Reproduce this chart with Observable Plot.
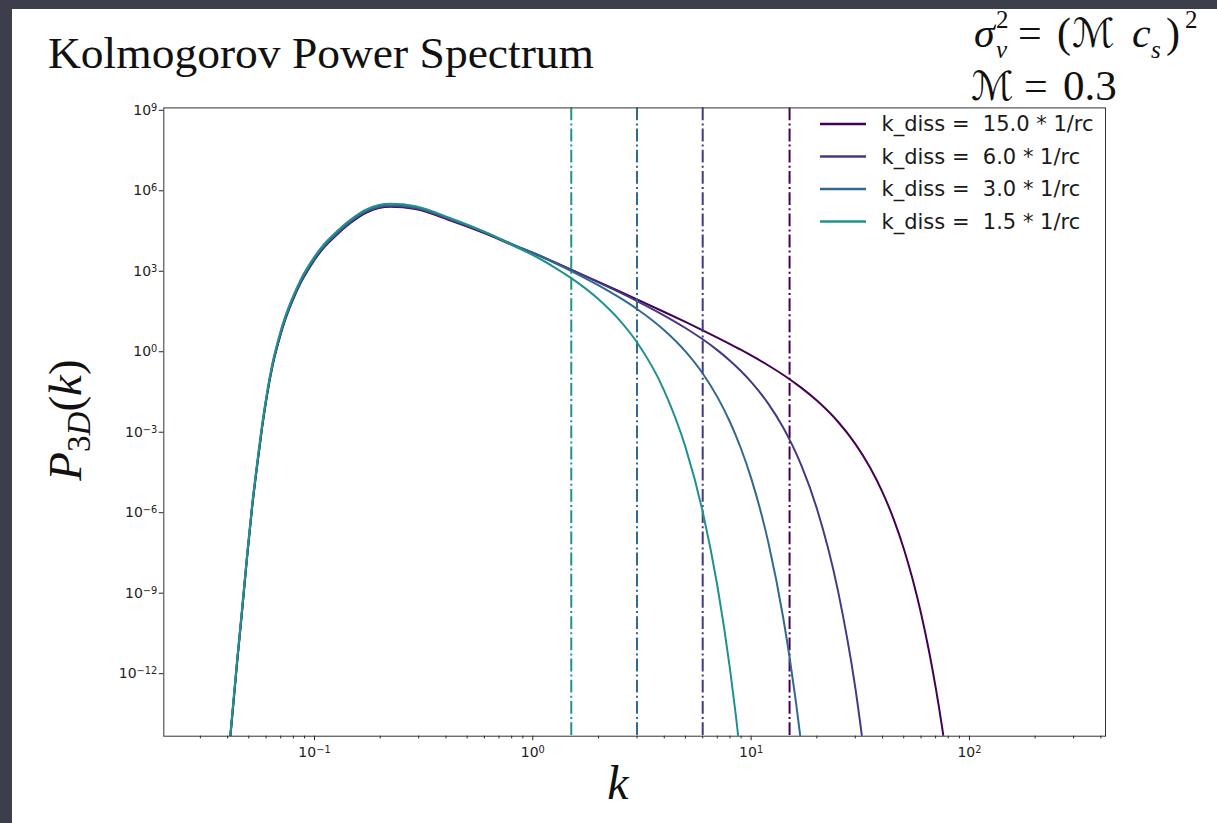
<!DOCTYPE html>
<html><head><meta charset="utf-8">
<script src="https://cdn.jsdelivr.net/npm/d3@7"></script>
<script src="https://cdn.jsdelivr.net/npm/@observablehq/plot@0.6"></script>
<style>
html,body{margin:0;padding:0;width:1217px;height:823px;overflow:hidden;background:#3c3f4b;}
#panel{position:absolute;left:12px;top:9px;width:1205px;height:814px;background:#fff;}
#chart{position:absolute;left:0;top:0;}
</style></head><body>
<div id="panel"></div>
<div id="chart"></div>
<script>
// wavenumbers k (shared grid)
const kValues = [0.0404, 0.0412, 0.0442, 0.0463, 0.0492, 0.0517, 0.0546, 0.0575, 0.0607, 0.0642, 0.0686, 0.0733, 0.0790, 0.0863, 0.0959, 0.108, 0.123, 0.145, 0.174, 0.223, 0.290, 0.420, 0.607, 0.848,
  1, 1.25, 1.5, 2, 2.5, 3, 4, 5, 6, 7, 8, 8.5, 9, 10, 12, 14, 15, 16, 17, 20, 25, 30, 35, 40, 45, 50, 55, 60, 65, 70, 75, 80];

// P_3D(k) for k_diss = 15.0
const pDiss15 = [6.03e-16, 3.80e-15, 2.04e-12, 1.02e-10, 2.04e-8, 1.10e-6, 4.47e-5, 1.15e-3, 2.06e-2, 0.236, 2.06, 12.3, 60.3, 295, 1294, 5.02e3, 1.51e4, 4.90e4, 1.29e5, 2.06e5, 1.70e5, 6.34e4, 2.07e4, 6.50e3,
  3.87e3, 1.77e3, 920, 324, 143, 72.6, 24.6, 10.5, 5.11, 2.74, 1.57, 1.21, 0.948, 0.592, 0.250, 0.113, 7.69e-2, 5.29e-2, 3.66e-2, 1.23e-2, 2.00e-3, 3.01e-4, 4.04e-5, 4.68e-6, 4.59e-7, 3.78e-8, 2.58e-9, 1.46e-10, 6.76e-12, 2.57e-13, 7.94e-15, 2.00e-16];
// k_diss = 6.0
const pDiss6 = [6.46e-16, 4.07e-15, 2.19e-12, 1.09e-10, 2.19e-8, 1.18e-6, 4.79e-5, 1.23e-3, 2.21e-2, 0.253, 2.21, 13.2, 64.6, 316, 1.39e3, 5.38e3, 1.62e4, 5.25e4, 1.38e5, 2.20e5, 1.82e5, 6.76e4, 2.20e4, 6.85e3,
  4.05e3, 1.82e3, 935, 316, 132, 63.1, 18.2, 6.26, 2.37, 0.937, 0.379, 0.241, 0.153, 6.15e-2, 9.29e-3, 1.25e-3, 4.32e-4, 1.44e-4, 4.62e-5, 1.17e-6, 9.92e-10, 2.45e-13, 1.67e-17, null, null, null, null, null, null, null, null, null];
// k_diss = 3.0
const pDiss3 = [6.92e-16, 4.36e-15, 2.34e-12, 1.17e-10, 2.34e-8, 1.26e-6, 5.13e-5, 1.32e-3, 2.37e-2, 0.271, 2.37, 14.1, 69.2, 339, 1.49e3, 5.76e3, 1.73e4, 5.63e4, 1.48e5, 2.35e5, 1.93e5, 7.15e4, 2.29e4, 6.92e3,
  4.00e3, 1.72e3, 831, 243, 84.2, 31.9, 5.13, 0.835, 0.126, 1.69e-2, 1.96e-3, 6.27e-4, 1.93e-4, 1.58e-5, 6.11e-8, 1.08e-10, 3.33e-12, 8.39e-14, 1.72e-15, null, null, null, null, null, null, null, null, null, null, null, null, null];
// k_diss = 1.5
const pDiss1_5 = [7.95e-16, 5.01e-15, 2.69e-12, 1.34e-10, 2.69e-8, 1.45e-6, 5.89e-5, 1.52e-3, 2.72e-2, 0.311, 2.72, 16.2, 79.5, 389, 1.71e3, 6.62e3, 1.99e4, 6.46e4, 1.68e5, 2.65e5, 2.16e5, 7.73e4, 2.32e4, 6.25e3,
  3.29e3, 1.17e3, 451, 73.5, 12.0, 1.83, 2.85e-2, 2.31e-4, 8.90e-7, 1.57e-9, 1.22e-12, 2.50e-14, 4.16e-16, null, null, null, null, null, null, null, null, null, null, null, null, null, null, null, null, null, null, null, null];

const kDiss = [15, 6, 3, 1.5];
const legendLabels = ["k_diss =  15.0 * 1/rc", "k_diss =  6.0 * 1/rc", "k_diss =  3.0 * 1/rc", "k_diss =  1.5 * 1/rc"];
const seriesColors = ["#440154", "#443a83", "#31688e", "#21918c"];

const xMajorTicks = [0.1, 1, 10, 100];
const xMajorLabels = ["10⁻¹", "10⁰", "10¹", "10²"];
const xMinorTicks = [0.03, 0.04, 0.05, 0.06, 0.07, 0.08, 0.09, 0.2, 0.3, 0.4, 0.5, 0.6, 0.7, 0.8, 0.9, 2, 3, 4, 5, 6, 7, 8, 9, 20, 30, 40, 50, 60, 70, 80, 90, 200, 300, 400];
const yMajorTicks = [1e-12, 1e-9, 1e-6, 1e-3, 1, 1e3, 1e6, 1e9];
const yMajorLabels = ["10⁻¹²", "10⁻⁹", "10⁻⁶", "10⁻³", "10⁰", "10³", "10⁶", "10⁹"];
// exponents used to typeset the same labels with real superscripts
const xExponents = ["−1", "0", "1", "2"];
const yExponents = ["−12", "−9", "−6", "−3", "0", "3", "6", "9"];

const xDomain = [0.0204, 420];
const yDomain = [3.8e-15, 1e9];

const allSeries = [pDiss15, pDiss6, pDiss3, pDiss1_5].map((arr, i) => ({
  kd: kDiss[i],
  color: seriesColors[i],
  rows: kValues.map((k, j) => ({k, P: arr[j]})).filter(d => d.P != null)
}));

const dashDot = "12.8,3.2,2,3.2";
const marks = [];
allSeries.forEach(s => {
  marks.push(Plot.line(s.rows, {x: "k", y: "P", stroke: s.color, strokeWidth: 2, curve: "monotone-x", clip: true}));
  marks.push(Plot.ruleX([s.kd], {stroke: s.color, strokeWidth: 2, strokeDasharray: dashDot}));
});
marks.push(Plot.axisX(xMinorTicks, {anchor: "bottom", tickSize: 2.7, tickFormat: () => "", label: null, color: "#222"}));
marks.push(Plot.axisX(xMajorTicks, {anchor: "bottom", tickSize: 4.5, tickPadding: 6.5, tickFormat: d => xMajorLabels[xMajorTicks.indexOf(d)], label: null, color: "#222"}));
marks.push(Plot.axisY(yMajorTicks, {anchor: "left", tickSize: 4.5, tickPadding: 2, dy: 2.4, tickFormat: d => yMajorLabels[yMajorTicks.indexOf(d)], label: null, color: "#222"}));
marks.push(Plot.frame({stroke: "#333", strokeWidth: 1}));

const chart = Plot.plot({
  width: 1217, height: 823,
  marginTop: 107.4, marginRight: 112, marginBottom: 87.3, marginLeft: 163.3,
  x: {type: "log", domain: xDomain, label: null},
  y: {type: "log", domain: yDomain, label: null},
  style: {background: "transparent", fontFamily: "DejaVu Sans", fontSize: "14px", color: "#222", overflow: "visible"},
  marks
});
document.getElementById("chart").appendChild(chart);

const svg = d3.select(chart);

// typeset tick labels "10^n" with a proper superscript (70% size)
svg.selectAll("text").each(function() {
  const t = this.textContent;
  let exp = null;
  const xi = xMajorLabels.indexOf(t), yi = yMajorLabels.indexOf(t);
  if (xi >= 0) exp = xExponents[xi];
  else if (yi >= 0) exp = yExponents[yi];
  if (exp === null) return;
  const sel = d3.select(this);
  sel.text(null).style("font-size", "14px");
  sel.append("tspan").text("10");
  sel.append("tspan").attr("dy", "-0.42em").style("font-size", "9.8px").text(exp);
});

const serif = "'Liberation Serif', 'DejaVu Serif', serif";
const ink = "#111";

// Title
svg.append("text").attr("x", 48).attr("y", 68).attr("text-anchor", "start")
  .attr("font-family", serif).attr("font-size", 44).attr("fill", ink)
  .attr("textLength", 546).attr("lengthAdjust", "spacingAndGlyphs")
  .text("Kolmogorov Power Spectrum");

// Equations (top right), each line one text element with positioned tspans
const calFont = "'DejaVu Serif', 'DejaVu Sans', serif";
function eqLine(parts, size) {
  const t = svg.append("text").attr("font-family", serif).attr("font-size", size)
    .attr("fill", ink).attr("text-anchor", "start");
  parts.forEach(p => {
    const s = t.append("tspan").attr("x", p.x).attr("y", p.y).text(p.t);
    if (p.size) s.attr("font-size", p.size);
    if (p.it) s.attr("font-style", "italic");
    if (p.cal) s.attr("font-family", calFont).attr("font-size", 40);
  });
}
eqLine([
  {t: "σ", x: 974, y: 47, it: true},
  {t: "2", x: 996, y: 28, size: 25},
  {t: "v", x: 996, y: 58, size: 25, it: true},
  {t: "=", x: 1018, y: 47},
  {t: "(", x: 1057, y: 47},
  {t: "ℳ", x: 1072, y: 47, cal: true},
  {t: "c", x: 1132, y: 47, it: true},
  {t: "s", x: 1151, y: 58, size: 25, it: true},
  {t: ")", x: 1166, y: 47},
  {t: "2", x: 1185, y: 28, size: 25}
], 42);
eqLine([
  {t: "ℳ", x: 971, y: 100, cal: true},
  {t: "=", x: 1024, y: 100},
  {t: "0.3", x: 1063, y: 100, size: 43}
], 42);

// Axis labels
svg.append("text").attr("x", 618).attr("y", 799).attr("text-anchor", "middle")
  .attr("font-family", serif).attr("font-style", "italic").attr("font-size", 48).attr("fill", ink).text("k");

const yl = svg.append("text").attr("transform", "translate(81,420) rotate(-90)")
  .attr("text-anchor", "middle").attr("font-family", serif).attr("font-size", 47).attr("fill", ink);
yl.append("tspan").attr("font-style", "italic").text("P");
yl.append("tspan").attr("font-size", 33).attr("dy", 9).text("3");
yl.append("tspan").attr("font-size", 33).attr("font-style", "italic").text("D");
yl.append("tspan").attr("dy", -9).text("(");
yl.append("tspan").attr("font-style", "italic").text("k");
yl.append("tspan").text(")");

// Legend
const lg = svg.append("g").attr("text-anchor", "start");
legendLabels.forEach((lab, i) => {
  const y = 124 + i * 32.5;
  lg.append("line").attr("x1", 820).attr("x2", 866).attr("y1", y).attr("y2", y)
    .attr("stroke", seriesColors[i]).attr("stroke-width", 2.5);
  lg.append("text").attr("x", 881.5).attr("y", y + 7).attr("text-anchor", "start")
    .attr("font-family", "DejaVu Sans").attr("font-size", 21).attr("fill", "#1a1a1a")
    .style("white-space", "pre").text(lab);
});
</script>
</body></html>
